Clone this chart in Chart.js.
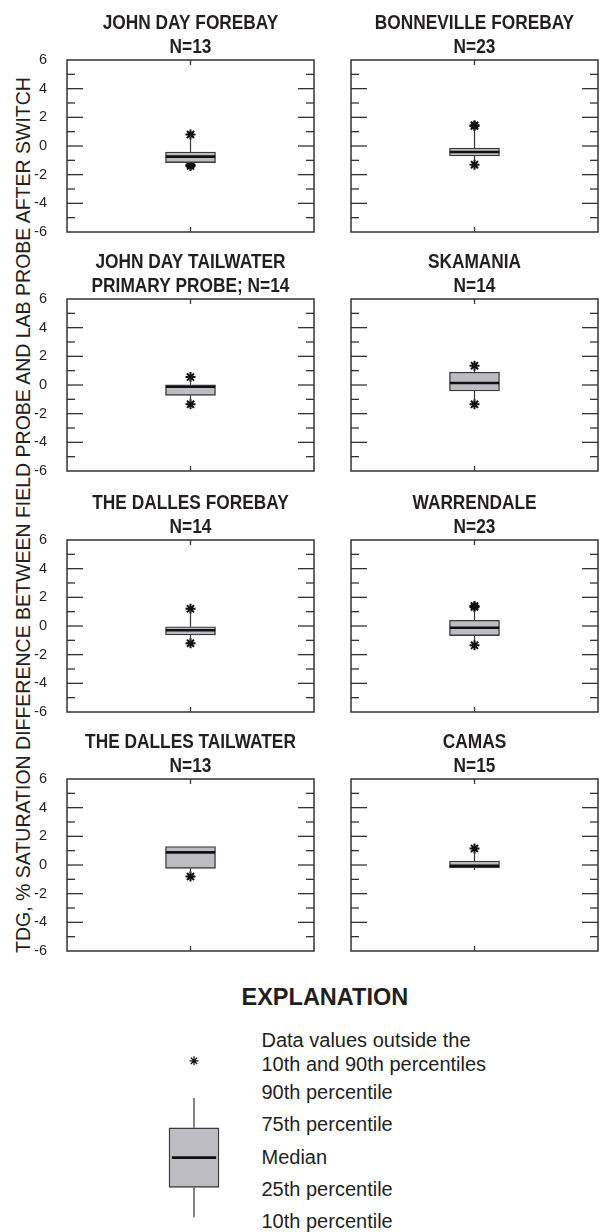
<!DOCTYPE html>
<html><head><meta charset="utf-8">
<script src="https://cdn.jsdelivr.net/npm/chart.js@4.4.1/dist/chart.umd.min.js"></script>
<style>
html,body{margin:0;padding:0;background:#fff;}
body{width:607px;height:1232px;position:relative;overflow:hidden;font-family:"Liberation Sans",Arial,sans-serif;color:#231f20;}
canvas{position:absolute;}
.t{position:absolute;white-space:nowrap;font-size:20px;line-height:20px;}
#ytitle{position:absolute;left:23px;top:515px;transform:translate(-50%,-50%) rotate(-90deg);white-space:nowrap;font-size:19.5px;line-height:20px;}
#expl{position:absolute;left:241.5px;top:985px;font-weight:bold;font-size:23.5px;line-height:24px;white-space:nowrap;}
</style></head><body>
<div id="ytitle">TDG, % SATURATION DIFFERENCE BETWEEN FIELD PROBE AND LAB PROBE AFTER SWITCH</div>
<div id="expl">EXPLANATION</div>
<div class="t" style="left:261.5px;top:1030.2px">Data values outside the</div>
<div class="t" style="left:261.5px;top:1053.5px">10th and 90th percentiles</div>
<div class="t" style="left:261.5px;top:1082.2px">90th percentile</div>
<div class="t" style="left:261.5px;top:1114.2px">75th percentile</div>
<div class="t" style="left:261.5px;top:1147.2px">Median</div>
<div class="t" style="left:261.5px;top:1179.2px">25th percentile</div>
<div class="t" style="left:261.5px;top:1210.7px">10th percentile</div>
<script>
// ---------------- DATA ----------------
const SITES = ['JOHN DAY FOREBAY', 'BONNEVILLE FOREBAY', 'JOHN DAY TAILWATER', 'SKAMANIA',
               'THE DALLES FOREBAY', 'WARRENDALE', 'THE DALLES TAILWATER', 'CAMAS'];
const SUBTITLES = ['N=13', 'N=23', 'PRIMARY PROBE; N=14', 'N=14', 'N=14', 'N=23', 'N=13', 'N=15'];
const P10    = [-1.20, -1.05, -1.20, -1.10, -1.10, -1.05, -0.60, -0.35];
const P25    = [-1.16, -0.70, -0.72, -0.42, -0.63, -0.67, -0.23, -0.21];
const MEDIAN = [-0.74, -0.42, -0.12,  0.14, -0.30, -0.12,  0.88, -0.05];
const P75    = [-0.42, -0.14,  0.02,  0.90, -0.05,  0.40,  1.29,  0.28];
const P90    = [ 0.75,  1.20,  0.45,  1.20,  1.10,  1.05,  1.29,  0.90];
const OUTLIERS = [[0.80, -1.30, -1.40], [1.40, 1.45, -1.30], [0.55, -1.35], [1.35, -1.35],
                  [1.20, -1.20], [1.33, 1.40, -1.35], [-0.80], [1.15]];
const Y_MAJOR_TICKS = [-6, -4, -2, 0, 2, 4, 6];
const Y_MINOR_TICKS = [-5, -3, -1, 1, 3, 5];
const Y_MIN = -6, Y_MAX = 6;
// explanation (schematic) box: 10th, 25th, median, 75th, 90th, and an outlier
const EXPL_BOX = [-2, -1, 0, 1, 2];
const EXPL_OUTLIER = [3.25];

// ---------------- LAYOUT / STYLE ----------------
const ROW_TOPS = [60, 299, 540, 779];
const PLOT_H = 172;
const COL_LEFT = [67, 351], COL_RIGHT = [317, 601], CANVAS_LEFT = [0, 330];
const INK = '#231f20';
const BOX_FILL = '#bcbcc1';
const TITLE_SIZE = 20, TITLE_SX = 0.865;
const TITLE_BASELINES = [31.5, 7.5];

const framePlugin = {
  id: 'frame',
  afterDraw(chart) {
    const {ctx, chartArea: a, scales: {x, y}} = chart;
    ctx.save();
    ctx.strokeStyle = '#333';
    ctx.lineWidth = 1.5;
    ctx.strokeRect(a.left, a.top, a.right - a.left, a.bottom - a.top);
    ctx.lineWidth = 1.3;
    const seg = (x1, y1, x2, y2) => { ctx.beginPath(); ctx.moveTo(x1, y1); ctx.lineTo(x2, y2); ctx.stroke(); };
    Y_MAJOR_TICKS.forEach(v => {
      if (v === Y_MIN || v === Y_MAX) return;
      const py = y.getPixelForValue(v);
      seg(a.left, py, a.left + 16, py); seg(a.right - 16, py, a.right, py);
    });
    Y_MINOR_TICKS.forEach(v => {
      const py = y.getPixelForValue(v);
      seg(a.left, py, a.left + 8, py); seg(a.right - 8, py, a.right, py);
    });
    const cx = x.getPixelForValue(1);
    seg(cx, a.top, cx, a.top + 5); seg(cx, a.bottom - 5, cx, a.bottom);
    ctx.restore();
  }
};

// condensed bold panel titles, centred over the plot area
const titlePlugin = {
  id: 'panelTitle',
  afterDraw(chart, args, opts) {
    if (!opts || !opts.lines) return;
    const {ctx, chartArea: a} = chart;
    const cx = (a.left + a.right) / 2;
    ctx.save();
    ctx.fillStyle = INK;
    ctx.font = `bold ${TITLE_SIZE}px 'Liberation Sans', Arial, sans-serif`;
    ctx.textAlign = 'center';
    ctx.textBaseline = 'alphabetic';
    opts.lines.forEach((t, k) => {
      ctx.save();
      ctx.translate(cx, a.top - TITLE_BASELINES[k]);
      ctx.scale(TITLE_SX, 1);
      ctx.fillText(t, 0, 0);
      ctx.restore();
    });
    ctx.restore();
  }
};

function boxDatasets(vals, outl, half, starR, starW) {
  const [p10, p25, med, p75, p90] = vals;
  return [
    {type: 'line', data: [{x: 1 - half, y: med}, {x: 1 + half, y: med}], borderColor: '#111', borderWidth: 2.6, pointRadius: 0},
    {type: 'bar', data: [{x: 1, y: [p25, p75]}], backgroundColor: BOX_FILL, borderColor: '#3a3a3a',
     borderWidth: 1.4, borderSkipped: false, barThickness: 50},
    {type: 'line', data: [{x: 1, y: p75}, {x: 1, y: p90}], borderColor: '#333', borderWidth: 1.2, pointRadius: 0},
    {type: 'line', data: [{x: 1, y: p25}, {x: 1, y: p10}], borderColor: '#333', borderWidth: 1.2, pointRadius: 0},
    {type: 'scatter', data: outl.map(v => ({x: 1, y: v})), pointStyle: 'star', pointRadius: starR,
     borderColor: '#111', backgroundColor: '#111', borderWidth: starW}
  ];
}

function makePanel(i) {
  const col = i % 2, row = Math.floor(i / 2);
  const plotTop = ROW_TOPS[row];
  const cl = CANVAS_LEFT[col];
  const titleH = 60, padB = 26, padR = 4;
  const cv = document.createElement('canvas');
  const w = COL_RIGHT[col] - cl + padR;
  const h = titleH + PLOT_H + padB;
  cv.width = w; cv.height = h;
  cv.style.left = cl + 'px'; cv.style.top = (plotTop - titleH) + 'px';
  cv.style.width = w + 'px'; cv.style.height = h + 'px';
  document.body.appendChild(cv);
  const axisW = COL_LEFT[col] - cl;
  const plotW = COL_RIGHT[col] - COL_LEFT[col];
  new Chart(cv, {
    type: 'bar',
    data: {datasets: boxDatasets([P10[i], P25[i], MEDIAN[i], P75[i], P90[i]], OUTLIERS[i], 25 / (plotW / 2), 5, 2)},
    options: {
      responsive: false, animation: false, devicePixelRatio: 1,
      layout: {padding: {left: 0, right: padR, top: titleH, bottom: padB}},
      plugins: {
        legend: {display: false}, tooltip: {enabled: false}, title: {display: false},
        panelTitle: {lines: [SITES[i], SUBTITLES[i]]}
      },
      scales: {
        x: {type: 'linear', min: 0, max: 2, offset: false, display: false},
        y: {
          min: Y_MIN, max: Y_MAX,
          grid: {display: false}, border: {display: false},
          ticks: {display: col === 0, stepSize: 2, padding: 12, color: INK,
                  font: {family: "'Liberation Sans', sans-serif", size: 14.5}},
          afterFit(s) { s.width = axisW; }
        }
      }
    },
    plugins: [framePlugin, titlePlugin]
  });
}
for (let i = 0; i < SITES.length; i++) makePanel(i);

// explanation box
(function () {
  const cv = document.createElement('canvas');
  const top = 1040, H = 192, left = 144, W = 100;
  cv.width = W; cv.height = H;
  cv.style.left = left + 'px'; cv.style.top = top + 'px';
  cv.style.width = W + 'px'; cv.style.height = H + 'px';
  document.body.appendChild(cv);
  const unit = 31.7, medPix = 1159;
  new Chart(cv, {
    type: 'bar',
    data: {datasets: boxDatasets(EXPL_BOX, EXPL_OUTLIER, 25 / (W / 2), 4.5, 1.3)},
    options: {
      responsive: false, animation: false, devicePixelRatio: 1,
      layout: {padding: 0},
      plugins: {legend: {display: false}, tooltip: {enabled: false}},
      scales: {
        x: {type: 'linear', min: 0, max: 2, offset: false, display: false},
        y: {display: false, min: -(top + H - medPix) / unit, max: (medPix - top) / unit}
      }
    }
  });
})();
</script>
</body></html>
